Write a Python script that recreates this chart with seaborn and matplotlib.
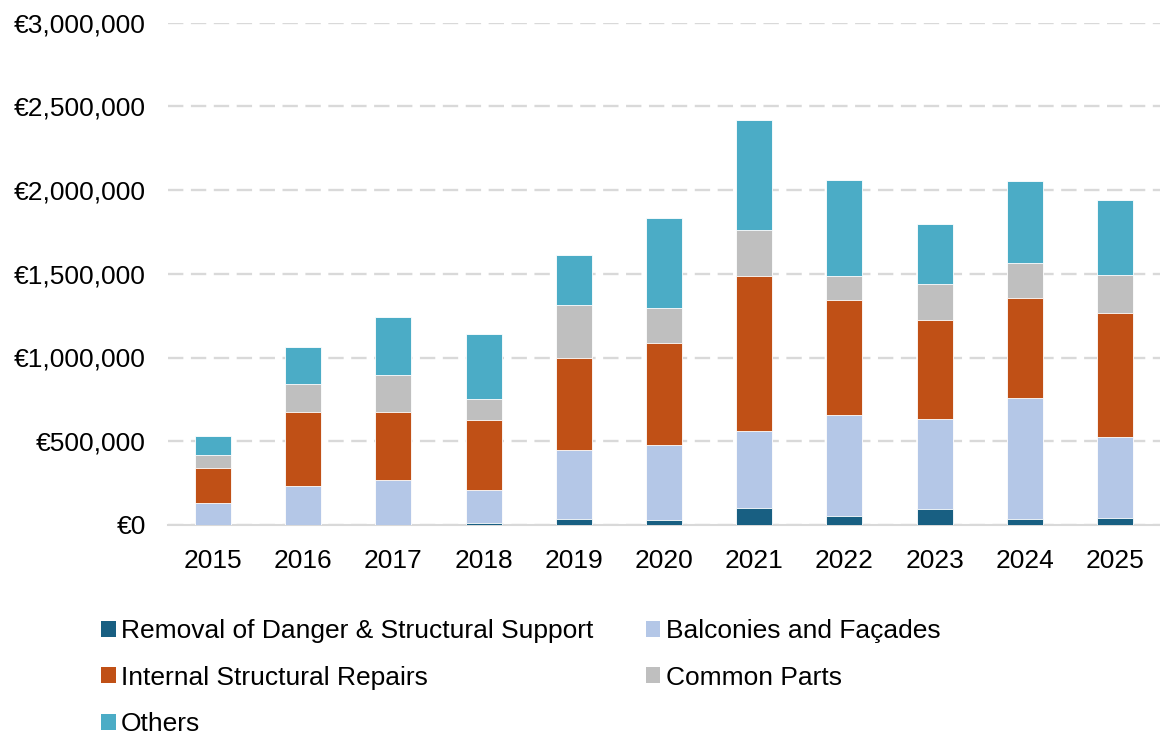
import matplotlib
matplotlib.use("Agg")
import matplotlib.pyplot as plt
import seaborn as sns
import numpy as np
import pandas as pd
from matplotlib.ticker import FuncFormatter, MultipleLocator
from matplotlib.patches import Patch

years = ["2015", "2016", "2017", "2018", "2019", "2020", "2021", "2022", "2023", "2024", "2025"]
danger = [0, 0, 0, 11000, 33000, 30000, 99000, 54000, 96000, 33000, 39000]
balconies = [134000, 230000, 266000, 195000, 412000, 447000, 461000, 602000, 536000, 723000, 486000]
internal = [207000, 444000, 408000, 420000, 553000, 611000, 928000, 689000, 593000, 597000, 742000]
common = [76000, 167000, 221000, 124000, 315000, 207000, 271000, 141000, 213000, 209000, 227000]
others = [115000, 219000, 348000, 388000, 297000, 540000, 659000, 574000, 359000, 492000, 446000]

series_names = ["Removal of Danger & Structural Support", "Balconies and Façades",
                "Internal Structural Repairs", "Common Parts", "Others"]
series_vals = [danger, balconies, internal, common, others]
colors = ["#185f82", "#b4c7e7", "#c05016", "#bfbfbf", "#4bacc6"]

sns.set_theme(style="white")
plt.rcParams['font.family'] = ['Liberation Sans', 'DejaVu Sans']
plt.rcParams['text.color'] = 'black'

fig = plt.figure(figsize=(11.6, 7.35), dpi=100)
ax = fig.add_axes([168/1160, 210/735, 992/1160, 502.5/735])

cum = np.cumsum(np.array(series_vals, dtype=float), axis=0)
df = pd.DataFrame({"year": years})
for i in range(len(series_names) - 1, -1, -1):
    df["v"] = cum[i]
    sns.barplot(data=df, x="year", y="v", color=colors[i], saturation=1, width=0.4,
                edgecolor="white", linewidth=0.6, ax=ax, zorder=3)

ax.set_ylim(0, 3000000)
ax.set_xlim(-0.5, len(years) - 0.5)
ax.yaxis.set_major_locator(MultipleLocator(500000))
ax.yaxis.set_major_formatter(FuncFormatter(lambda v, p: f"€{v:,.0f}"))
ax.set_xlabel("")
ax.set_ylabel("")
ax.grid(axis="y", color="#d9d9d9", linewidth=1.7, linestyle=(0, (6.5, 3.2)), zorder=0)
ax.set_axisbelow(True)
for s in ["top", "right", "left"]:
    ax.spines[s].set_visible(False)
ax.spines["bottom"].set_color("#d9d9d9")
ax.spines["bottom"].set_linewidth(1.5)
ax.tick_params(axis="y", length=0, pad=16, labelsize=19, labelcolor="black")
ax.tick_params(axis="x", length=0, pad=17, labelsize=19, labelcolor="black")

order = [0, 2, 4, 1, 3]
handles = [Patch(facecolor=colors[i], edgecolor="none") for i in order]
labels = [series_names[i] for i in order]
fig.legend(handles, labels, loc="upper left", bbox_to_anchor=(101/1160, 1 - 619/735),
           ncol=2, frameon=False, fontsize=19, handlelength=0.55, handleheight=0.55,
           handletextpad=0.2, columnspacing=2.0, labelspacing=0.86,
           borderpad=0, borderaxespad=0, labelcolor="black")

fig.savefig("out.png", dpi=100)
